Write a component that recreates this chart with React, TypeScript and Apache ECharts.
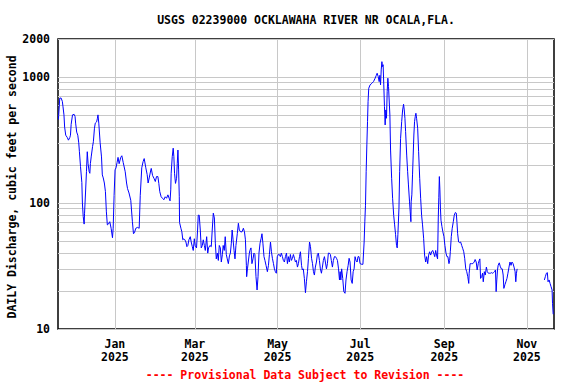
import React, { useEffect, useRef } from "react";
import * as echarts from "echarts";

const TITLE = "USGS 02239000 OCKLAWAHA RIVER NR OCALA,FLA.";
const Y_NAME = "DAILY Discharge, cubic feet per second";
const FOOTER = "---- Provisional Data Subject to Revision ----";

const START_DATE = "2024-11-20";
const END_DATE = "2025-11-21";
const monthTickDates = ["2025-01-01", "2025-03-01", "2025-05-01", "2025-07-01", "2025-09-01", "2025-11-01"];
const monthNames = ["Jan", "Feb", "Mar", "Apr", "May", "Jun", "Jul", "Aug", "Sep", "Oct", "Nov", "Dec"];
const yLabelValues = [10, 100, 1000, 2000];
const yGridValues = [10, 20, 30, 40, 50, 60, 70, 80, 90, 100, 200, 300, 400, 500, 600, 700, 800, 900, 1000, 2000];

// days since START_DATE and daily discharge, cfs
const days = [
  0.3, 1.3, 2.3, 3.2, 3.7, 4.4, 4.9, 5.7, 6.9, 7.7, 8.7, 9.2, 9.7, 10.7, 11.9, 12.6, 13.0, 13.8, 14.6, 15.3,
  15.8, 16.6, 17.6, 18.0, 18.6, 19.3, 19.6, 20.3, 21.0, 21.6, 22.2, 23.0, 23.5, 23.9, 24.5, 25.5, 26.1, 26.9, 27.5, 28.5,
  29.1, 29.5, 30.1, 31.1, 32.1, 32.7, 33.4, 34.2, 35.0, 35.7, 36.4, 37.2, 38.2, 39.2, 40.2, 40.7, 41.4, 42.1, 42.8, 43.6,
  44.3, 45.1, 46.3, 47.1, 48.1, 49.6, 50.6, 51.3, 52.4, 53.7, 54.9, 55.7, 56.4, 57.4, 58.7, 59.9, 60.7, 61.8, 62.8, 63.6,
  64.8, 65.8, 66.5, 67.3, 68.5, 68.8, 69.8, 70.8, 71.8, 72.7, 73.7, 74.4, 75.1, 76.1, 77.1, 78.1, 79.1, 80.1, 81.1, 82.0,
  82.7, 83.2, 83.5, 84.3, 85.0, 85.5, 86.0, 86.7, 87.5, 88.0, 88.5, 89.0, 89.5, 89.7, 90.7, 91.4, 92.1, 92.9, 93.6, 94.4,
  95.1, 95.8, 96.6, 97.6, 98.3, 99.1, 99.8, 100.6, 101.2, 102.2, 103.0, 103.5, 104.2, 105.0, 105.7, 106.5, 107.2, 108.0, 108.7, 109.7,
  110.5, 111.1, 112.1, 113.1, 113.8, 114.6, 115.4, 116.1, 116.8, 117.6, 118.3, 119.0, 119.8, 120.5, 121.3, 121.9, 122.7, 123.4, 124.2, 124.9,
  125.7, 126.5, 127.2, 127.9, 128.5, 129.2, 129.9, 130.6, 131.3, 132.3, 133.1, 133.8, 134.8, 135.8, 136.8, 137.6, 138.3, 139.0, 139.2, 139.8,
  140.4, 141.2, 141.6, 142.4, 143.1, 143.9, 144.6, 145.3, 146.1, 146.9, 147.6, 148.3, 149.1, 149.9, 150.5, 151.2, 152.0, 152.7, 153.5, 154.5,
  155.3, 156.0, 156.8, 157.5, 158.2, 159.0, 159.7, 160.4, 161.1, 161.8, 162.6, 163.3, 164.1, 164.8, 165.6, 166.3, 167.1, 167.8, 168.6, 169.3,
  170.0, 170.7, 171.5, 172.2, 173.0, 173.7, 174.5, 175.2, 175.9, 176.7, 177.4, 178.2, 178.9, 179.7, 180.3, 181.0, 181.8, 182.6, 183.3, 184.1,
  184.8, 185.6, 186.3, 187.1, 187.8, 188.5, 189.2, 189.9, 190.7, 191.4, 192.1, 192.9, 193.6, 194.4, 195.1, 195.8, 196.6, 197.3, 198.1, 198.8,
  199.5, 200.2, 201.0, 201.7, 202.5, 203.2, 204.0, 204.7, 205.5, 206.2, 207.0, 207.7, 208.2, 208.7, 209.3, 210.1, 210.9, 211.8, 212.5, 213.3,
  214.1, 214.8, 215.5, 216.3, 217.1, 217.8, 218.5, 219.2, 219.9, 220.7, 221.4, 222.1, 222.9, 224.2, 225.0, 225.9, 226.4, 226.9, 227.4, 227.9,
  228.4, 228.8, 229.3, 230.3, 231.6, 232.8, 233.8, 234.8, 235.5, 236.3, 237.0, 237.5, 238.0, 238.5, 239.0, 239.4, 239.9, 240.4, 240.9, 241.4,
  241.9, 242.4, 242.9, 243.4, 243.9, 244.4, 244.9, 245.4, 246.2, 246.9, 247.7, 248.4, 249.1, 249.8, 250.3, 250.8, 251.6, 252.1, 252.8, 253.6,
  254.3, 255.0, 255.5, 256.0, 256.5, 257.3, 258.0, 258.6, 259.4, 259.9, 260.4, 260.6, 261.1, 261.6, 262.1, 262.6, 263.1, 263.6, 264.1, 264.6,
  265.4, 266.1, 266.9, 267.6, 268.3, 269.0, 269.8, 270.5, 271.3, 272.0, 272.8, 273.5, 274.2, 275.0, 275.7, 276.5, 277.2, 278.0, 278.7, 279.3,
  280.1, 280.6, 281.0, 281.4, 281.8, 282.2, 282.6, 283.3, 284.0, 284.8, 285.5, 286.3, 287.0, 287.7, 288.5, 289.0, 289.5, 290.2, 290.9, 291.7,
  292.4, 293.2, 293.9, 294.4, 294.9, 295.6, 296.4, 297.1, 297.9, 298.6, 299.4, 300.1, 300.9, 301.6, 302.4, 303.1, 303.4, 304.1, 305.1, 306.1,
  307.1, 307.8, 308.6, 309.3, 310.1, 310.8, 311.3, 311.8, 312.6, 313.3, 313.8, 314.6, 315.3, 316.1, 316.8, 317.6, 318.3, 319.1, 319.8, 320.6,
  321.3, 322.1, 322.8, 323.3, 323.8, 324.3, 324.8, 325.6, 326.3, 327.1, 327.8, 328.5, 329.0, 329.8, 330.5, 331.3, 332.0, 332.8, 333.5, 334.3,
  335.0, 335.8, 336.5, 337.3, 337.8, 338.3, 338.8, 348.0, 358.9, 359.6, 360.4, 361.1, 361.6, 362.4, 363.1, 363.8, 364.6, 364.9, 365.4,
];

const flows = [
  460, 680, 680, 640, 580, 500, 400, 345, 330, 315, 330, 345, 420, 500, 505, 485, 430, 365, 345, 300,
  255, 195, 145, 100, 78, 68, 83, 120, 177, 255, 205, 177, 172, 205, 232, 280, 306, 392, 430, 440,
  470, 500, 430, 300, 232, 167, 158, 144, 123, 85, 67, 68, 71, 63, 53, 63, 115, 183, 190, 210,
  230, 205, 230, 237, 210, 177, 144, 130, 120, 105, 71, 57, 58, 63, 64, 63, 115, 190, 213, 225,
  190, 168, 144, 158, 183, 188, 165, 157, 148, 162, 162, 143, 123, 112, 109, 106, 112, 109, 116, 109,
  104, 127, 172, 233, 272, 233, 172, 143, 157, 206, 263, 183, 112, 70, 63, 59, 51, 52, 51, 49,
  45, 46, 51, 54, 49, 45, 42, 52, 46, 44, 61, 80, 80, 61, 44, 46, 51, 46, 42, 54,
  40, 44, 46, 45, 61, 83, 76, 48, 36, 40, 35, 46, 44, 34, 39, 46, 42, 54, 39, 36,
  33, 38, 40, 48, 61, 51, 42, 36, 46, 57, 69, 61, 59, 59, 63, 59, 51, 32, 26, 30,
  34, 40, 42, 44, 33, 36, 40, 39, 26, 20.4, 26, 40, 48, 52.5, 57, 48, 37.5, 35, 32, 28.5,
  32, 39, 49, 41, 36.4, 33, 30, 28.5, 27.7, 37.5, 39, 39, 37.5, 40, 37.5, 35, 34, 37.5, 40, 33,
  37.5, 34, 39, 35, 36.4, 39, 36.4, 34, 35, 31, 33, 37.5, 41, 32, 29.4, 30, 25.2, 19.4, 23.7, 28.5,
  36.4, 49, 45, 36.4, 33, 28.5, 26.8, 31, 34, 39, 40, 35, 30, 27.7, 31, 35, 37.5, 34, 30, 33,
  40, 40, 39, 35, 31, 35, 37.5, 37.5, 36.4, 35, 30, 24.5, 28.5, 24.5, 30, 25.2, 19.8, 19.2, 24.5, 28.5,
  32, 36.4, 34, 24.5, 23, 28.5, 30, 37.5, 35, 34, 37.5, 37.5, 33, 32.6, 32.6, 49, 71, 96, 177, 289,
  442, 637, 813, 865, 891, 918, 965, 1024, 1070, 1005, 918, 1030, 865, 1137, 1322, 1208, 1250, 865, 581, 416,
  547, 470, 764, 977, 838, 838, 499, 263, 157, 109, 80, 67, 56, 46, 44, 56, 91, 177, 326, 442,
  547, 607, 547, 470, 368, 240, 177, 139, 102, 85, 71, 102, 116, 167, 240, 346, 442, 484, 515, 470,
  392, 255, 157, 109, 80, 67, 52.5, 38.6, 34, 37.5, 33, 38.6, 41, 38.6, 41, 42, 40, 37.5, 42, 38.6,
  36, 76, 110, 162, 127, 91, 73, 65, 59, 54, 46, 40, 37.5, 37.5, 33, 35, 41, 54, 63, 71,
  80, 84, 83, 70, 57, 49, 48.5, 49, 46, 43.7, 41, 36.4, 30, 28.5, 26, 23, 27.7, 33, 33, 33,
  34, 35.6, 34, 29.4, 33, 35, 36, 25.2, 26, 27.7, 23.7, 28.5, 26.8, 31, 28.5, 27.7, 27.7, 27.7, 28, 27.7,
  28, 28.5, 29.4, 19.8, 24.5, 29.4, 32, 33.5, 31.5, 30, 30, 26.8, 21, 22.5, 23.7, 25.2, 27.7, 31, 34, 32,
  34, 33, 31, 28.5, 23.7, 27.7, 30, null, 24.5, 26, 27.7, 28, 23.7, 24.5, 23, 21.7, 20.4, 16, 13.1,
];

const DAY_MS = 86400000;
const dayOf = (s: string) => Math.round((Date.parse(s) - Date.parse(START_DATE)) / DAY_MS);

const FONT = '"DejaVu Sans Mono", monospace';

export default function App() {
  const ref = useRef<HTMLDivElement>(null);

  useEffect(() => {
    if (!ref.current) return;
    const chart = echarts.init(ref.current, undefined, { renderer: "svg" });
    const tickDays = monthTickDates.map(dayOf);
    const labelFor = (v: number) => {
      const d = new Date(Date.parse(START_DATE) + Math.round(v) * DAY_MS);
      return `${monthNames[d.getUTCMonth()]}\n${d.getUTCFullYear()}`;
    };
    const seriesData = days.map((d, i) => [d, flows[i] == null ? "-" : flows[i]]);

    chart.setOption({
      animation: false,
      backgroundColor: "#fff",
      grid: {
        left: 58,
        top: 39,
        width: 496,
        height: 290,
        show: true,
        borderColor: "#000",
        borderWidth: 1.5,
        backgroundColor: "transparent",
      },
      xAxis: {
        type: "value",
        min: 0,
        max: dayOf(END_DATE),
        axisLine: { show: false },
        axisTick: { show: false, customValues: tickDays },
        splitLine: { show: true, lineStyle: { color: "#c8c8c8", width: 1 } },
        axisLabel: {
          customValues: tickDays,
          formatter: (v: number) => labelFor(v),
          fontFamily: FONT,
          fontWeight: "bold",
          fontSize: 11.5,
          lineHeight: 13,
          color: "#000",
          margin: 8,
        },
      },
      yAxis: {
        type: "log",
        logBase: 10,
        min: 10,
        max: 2000,
        axisLine: { show: false },
        axisTick: { show: false, customValues: yGridValues },
        splitLine: { show: true, lineStyle: { color: "#c8c8c8", width: 1 } },
        axisLabel: {
          customValues: yLabelValues,
          formatter: (v: number) => String(Math.round(v)),
          fontFamily: FONT,
          fontWeight: "bold",
          fontSize: 11.5,
          color: "#000",
          margin: 8,
        },
      },
      graphic: [
        {
          type: "text",
          x: 306,
          y: 20,
          style: { text: TITLE, font: `bold 11.5px ${FONT}`, fill: "#000", align: "center", verticalAlign: "middle" },
        },
        {
          type: "text",
          x: 12,
          y: 187,
          rotation: Math.PI / 2,
          style: { text: Y_NAME, font: `bold 11.5px ${FONT}`, fill: "#000", align: "center", verticalAlign: "middle" },
        },
        {
          type: "text",
          x: 305,
          y: 375,
          style: { text: FOOTER, font: `bold 11.5px ${FONT}`, fill: "#ff0000", align: "center", verticalAlign: "middle" },
        },
      ],
      series: [
        {
          type: "line",
          data: seriesData,
          showSymbol: false,
          connectNulls: false,
          lineStyle: { color: "#0000ff", width: 1 },
          itemStyle: { color: "#0000ff" },
          z: 3,
        },
      ],
    });
    return () => chart.dispose();
  }, []);

  return <div ref={ref} style={{ position: "fixed", left: 0, top: 0, width: 576, height: 384 }} />;
}
